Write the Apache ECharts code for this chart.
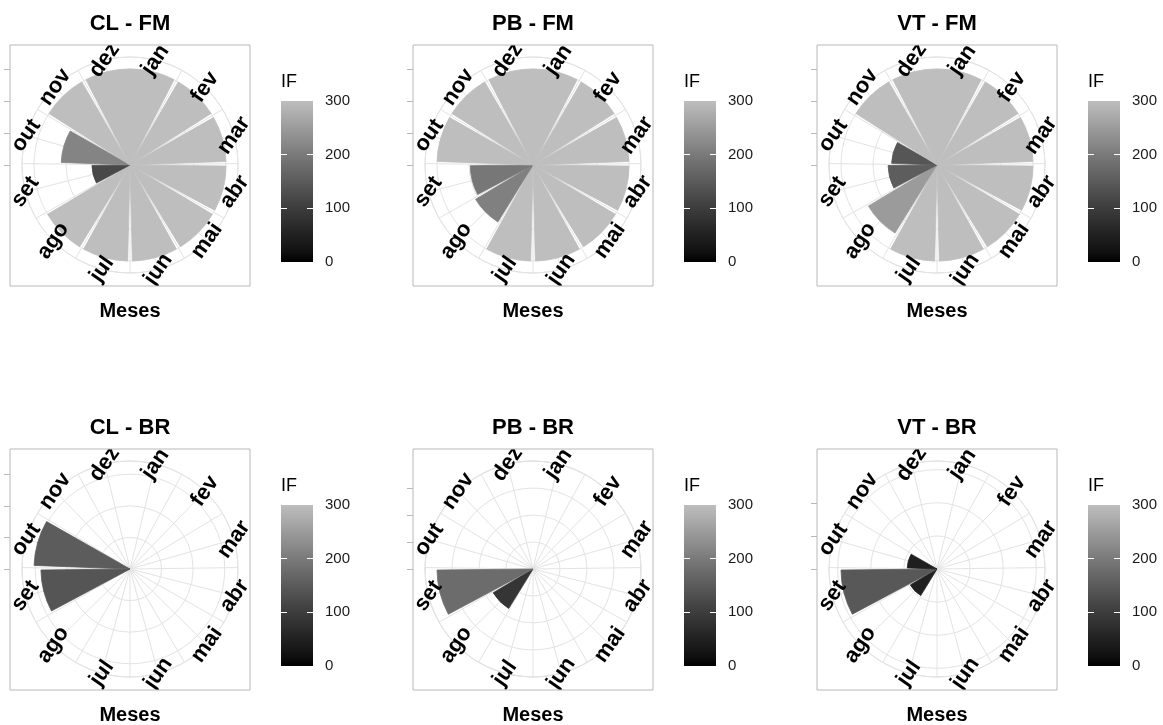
<!DOCTYPE html>
<html><head><meta charset="utf-8">
<script src="https://cdn.jsdelivr.net/npm/echarts@6/dist/echarts.min.js"></script>
<style>html,body{margin:0;padding:0;background:#fff}#c{width:1163px;height:725px}</style>
</head><body><div id="c"></div>
<script>
// ---------------- data ----------------
const months = ['jan','fev','mar','abr','mai','jun','jul','ago','set','out','nov','dez'];
const monthPos = [1,2,3,4,5,6,7,8,9,10,11,12];
const panelTitles = ['CL - FM','PB - FM','VT - FM','CL - BR','PB - BR','VT - BR'];
const ifCL_FM = [300,300,300,300,300,300,300,300,119,215,300,300];
const ifPB_FM = [300,300,300,300,300,300,300,209,196,300,300,300];
const ifVT_FM = [300,300,300,300,300,300,300,250,153,142,300,300];
const ifCL_BR = [null,null,null,null,null,null,null,null,141,152,null,null];
const ifPB_BR = [null,null,null,null,null,null,null,86,178,null,null,null];
const ifVT_BR = [null,null,null,null,null,null,null,47,145,45,null,null];
const rBreakStep = [100,100,100,50,50,50];
const fillLimits = [0,300];
const fillBreaks = [0,100,200,300];
const xTitle = 'Meses';
const legendTitle = 'IF';

// ---------------- style / layout ----------------
const FONT = '"Liberation Sans", Arial, Helvetica, sans-serif';
const GRID = '#e3e3e3', BORDER = '#b8b8b8';
const BOX_W = 240, BOX_H = 241;
const colX = [10, 413, 817], rowY = [45, 449];
const BAR_R = 96, RING_R = 108, LABEL_R = 108, BAR_HALF = 0.45;
const ROT = 55 * Math.PI / 180;

// CIELAB interpolation black -> grey (#BEBEBE)
function lin(c){c/=255;return c<=0.04045?c/12.92:Math.pow((c+0.055)/1.055,2.4);}
function LofY(Y){return Y>0.008856?116*Math.cbrt(Y)-16:903.3*Y;}
function YofL(L){return L>8?Math.pow((L+16)/116,3):L/903.3;}
const L_HIGH = LofY(lin(190));
function gray(t){
  const Y = YofL(t*L_HIGH);
  const s = Y<=0.0031308?12.92*Y:1.055*Math.pow(Y,1/2.4)-0.055;
  const v = Math.max(0,Math.min(255,Math.round(s*255)));
  const h = v.toString(16).padStart(2,'0');
  return '#'+h+h+h;
}
const nStops = 16;
const rampColors = [], gradStops = [];
for (let i=0;i<=nStops;i++){ const t=i/nStops; rampColors.push(gray(t)); gradStops.push({offset:1-t,color:gray(t)}); }

const panelVals = [ifCL_FM, ifPB_FM, ifVT_FM, ifCL_BR, ifPB_BR, ifVT_BR];

const opt = {
  backgroundColor:'#fff', animation:false,
  polar:[], angleAxis:[], radiusAxis:[], grid:[], xAxis:[], yAxis:[], series:[],
  visualMap:[{type:'continuous', show:false, min:fillLimits[0], max:fillLimits[1], dimension:0,
    seriesIndex:[0,1,2,3,4,5], inRange:{color:rampColors}}],
  graphic:{elements:[]}
};

const spokes = [];
monthPos.forEach((p,k)=>{ spokes.push(p); if(k<monthPos.length-1) spokes.push((p+monthPos[k+1])/2); });

const labelSeries = [], cbSeries = [];
panelVals.forEach((vals, i)=>{
  const col = i%3, row = Math.floor(i/3);
  const bx = colX[col], by = rowY[row];
  const cx = bx + BOX_W/2, cy = by + 120;
  const M = Math.max(...vals.filter(v=>v!=null));
  const step = rBreakStep[i];
  opt.polar.push({center:[cx,cy], radius:[0,RING_R]});
  opt.radiusAxis.push({polarIndex:i, type:'value', min:0, max:M*RING_R/BAR_R, interval:step, z:0,
    axisLine:{show:false, lineStyle:{color:'rgba(0,0,0,0)', width:0}},
    axisTick:{show:false}, axisLabel:{show:false},
    splitLine:{show:true, lineStyle:{color:GRID, width:1}}});
  opt.angleAxis.push({polarIndex:i, type:'value', min:monthPos[0]-0.45, max:monthPos[11]+0.45,
    startAngle:90, clockwise:true, z:0,
    axisLine:{show:true, lineStyle:{color:GRID, width:1}},
    axisTick:{show:false, customValues:spokes}, axisLabel:{show:false, customValues:spokes},
    splitLine:{show:true, lineStyle:{color:GRID, width:1}}});
  // bars
  opt.series.push({type:'custom', coordinateSystem:'polar', polarIndex:i, z:5, silent:true,
    data: vals.map((v,k)=> v==null?null:[v, monthPos[k]]).filter(Boolean),
    renderItem:function(params, api){
      const v = api.value(0), pos = api.value(1);
      if(!(v>0)) return;
      const cs = params.coordSys;
      const a = api.coord([v, pos-BAR_HALF]), b = api.coord([v, pos+BAR_HALF]);
      let a1 = Math.atan2(a[1]-cs.cy, a[0]-cs.cx), a2 = Math.atan2(b[1]-cs.cy, b[0]-cs.cx);
      if (a2 <= a1) a2 += 2*Math.PI;
      const r = Math.hypot(a[0]-cs.cx, a[1]-cs.cy);
      const c = api.visual('color');
      return {type:'sector', shape:{cx:cs.cx, cy:cs.cy, r0:0, r:r, startAngle:a1-0.002, endAngle:a2+0.002, clockwise:true},
        style:{fill:c, stroke:c, lineWidth:0.8}};
    }});
  // month labels
  labelSeries.push({type:'custom', coordinateSystem:'polar', polarIndex:i, z:6, silent:true,
    data: monthPos.map(p=>[0,p]),
    renderItem:function(params, api){
      const pos = api.value(1);
      const cs = params.coordSys;
      const p = api.coord([M, pos]);
      const f = LABEL_R/BAR_R;
      const x = cs.cx + (p[0]-cs.cx)*f, y = cs.cy + (p[1]-cs.cy)*f;
      return {type:'group', children:[{type:'text', x:x, y:y, rotation:ROT,
        style:{text:months[params.dataIndex], font:'bold 22px '+FONT, fill:'#000',
          align:'center', verticalAlign:'middle', textAlign:'center', textVerticalAlign:'middle'}}],
        clipPath:{type:'rect', shape:{x:bx, y:by, width:BOX_W, height:BOX_H}}};
    }});
  // r-axis ticks (left of panel)
  const gT = opt.grid.length;
  opt.grid.push({left:bx, top:cy-BAR_R, width:20, height:BAR_R});
  opt.xAxis.push({gridIndex:gT, type:'value', show:false});
  const rTicks = []; for(let v=0; v<=M+1e-9; v+=step) rTicks.push(v);
  opt.yAxis.push({gridIndex:gT, type:'value', min:0, max:M, position:'left',
    axisLine:{show:false}, axisLabel:{show:false}, splitLine:{show:false},
    axisTick:{show:true, length:6, lineStyle:{color:BORDER, width:1}, customValues:rTicks}});
  // colour bar
  const gC = opt.grid.length;
  const cbL = bx + 271, cbT = by + 56;
  opt.grid.push({left:cbL, top:cbT, width:32, height:161});
  const xi = opt.xAxis.length;
  opt.xAxis.push({gridIndex:gC, type:'category', data:[''], show:false});
  const yi = opt.yAxis.length;
  opt.yAxis.push({gridIndex:gC, type:'value', min:fillLimits[0], max:fillLimits[1], interval:fillBreaks[1]-fillBreaks[0],
    position:'right', z:5, axisLine:{show:false}, splitLine:{show:false},
    axisTick:{show:true, inside:true, length:6, lineStyle:{color:'#fff', width:1}, customValues:fillBreaks.slice(1,-1)},
    axisLabel:{margin:12, color:'#1a1a1a', fontSize:15, fontFamily:FONT}});
  opt.yAxis.push({gridIndex:gC, type:'value', min:fillLimits[0], max:fillLimits[1], interval:fillBreaks[1]-fillBreaks[0],
    position:'left', z:5, axisLine:{show:false}, splitLine:{show:false}, axisLabel:{show:false},
    axisTick:{show:true, inside:true, length:6, lineStyle:{color:'#fff', width:1}, customValues:fillBreaks.slice(1,-1)}});
  cbSeries.push({type:'bar', xAxisIndex:xi, yAxisIndex:yi, data:[fillLimits[1]], barWidth:'100%', silent:true, z:1,
    itemStyle:{color:new echarts.graphic.LinearGradient(0,0,0,1,gradStops)}});
  // texts & box
  opt.graphic.elements.push(
    {type:'rect', shape:{x:bx, y:by, width:BOX_W, height:BOX_H}, style:{fill:'none', stroke:BORDER, lineWidth:1}, z:10, silent:true},
    {type:'text', x:cx, y:by-21, style:{text:panelTitles[i], font:'bold 22px '+FONT, fill:'#000', textAlign:'center', textVerticalAlign:'middle'}},
    {type:'text', x:cx, y:by+266, style:{text:xTitle, font:'bold 20px '+FONT, fill:'#000', textAlign:'center', textVerticalAlign:'middle'}},
    {type:'text', x:cbL, y:by+37, style:{text:legendTitle, font:'18px '+FONT, fill:'#000', textAlign:'left', textVerticalAlign:'middle'}}
  );
});
opt.series = opt.series.concat(labelSeries, cbSeries);

const chart = echarts.init(document.getElementById('c'), null, {renderer:'canvas'});
chart.setOption(opt);
</script></body></html>
